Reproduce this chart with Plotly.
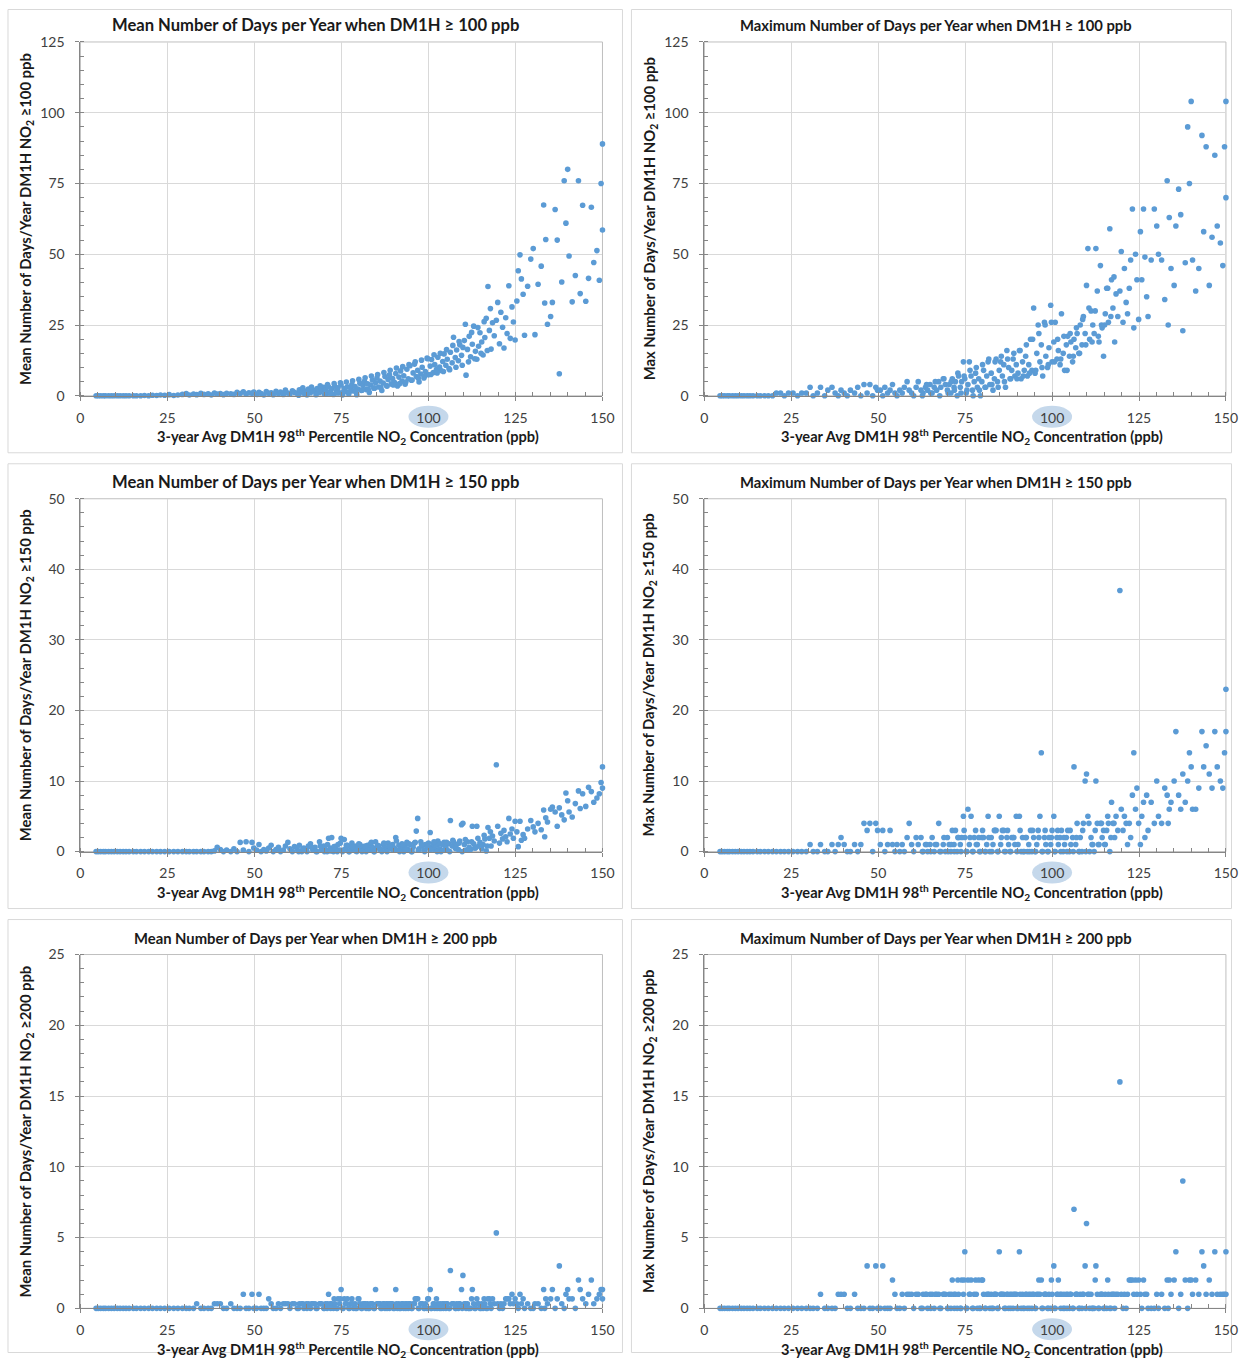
import plotly.graph_objects as go

W, H = 1244, 1361

# 3-year average DM1H 98th percentile NO2 concentration at each site (ppb)
conc_ppb = [
    4.5, 5.1, 5.8, 6.6, 7.2, 8.1, 8.9, 9.7, 10.6, 11.4,
    12.3, 13.1, 14.0, 15.2, 16.1, 17.3, 18.4, 19.6, 20.7, 21.9,
    23.0, 24.2, 25.5, 26.8, 28.0, 29.3,
    30.4, 31.3, 32.5, 33.4, 34.6, 35.5, 36.7, 37.6, 38.5, 39.3,
    40.2, 41.1, 42.0, 43.2, 44.1, 45.0, 45.9, 46.8, 47.6, 48.4,
    49.3, 49.8,
    50.6, 51.3, 51.9, 52.7, 53.4, 54.1, 54.8, 55.4, 56.2, 56.9,
    57.5, 58.3, 58.9, 59.6, 60.2, 60.9, 61.5, 62.3, 62.9, 63.6,
    64.2, 64.9, 65.5, 66.1, 66.8, 67.4, 68.0, 68.7, 69.3, 69.9,
    70.4, 70.9, 71.3, 71.8, 72.2, 72.7, 73.1, 73.6, 74.0, 74.5,
    74.9, 75.3, 75.8, 76.2, 76.7, 77.1, 77.6, 78.0, 78.5, 78.9,
    79.4, 79.8, 80.3, 80.7, 81.2, 81.6, 82.1, 82.5, 83.0, 83.4,
    83.9, 84.3, 84.8, 85.2, 85.7, 86.1, 86.6, 87.0, 87.5, 87.9,
    88.4, 88.8, 89.3, 89.7,
    90.2, 90.6, 91.1, 91.5, 92.0, 92.4, 92.9, 93.3, 93.8, 94.2,
    94.7, 95.1, 95.6, 96.0, 96.5, 96.9, 97.3, 97.8, 98.2, 98.7,
    99.1, 99.6, 100.0, 100.5, 100.9, 101.4, 101.8, 102.3, 102.7, 103.2,
    103.6, 104.1, 104.5, 105.0, 105.4, 105.9, 106.3, 106.8, 107.2, 107.7,
    108.1, 108.6, 109.0, 109.5, 109.9,
    110.3, 110.8, 111.2, 111.7, 112.1, 112.6, 113.0, 113.5, 113.9, 114.4,
    114.8, 115.3, 115.7, 116.2, 116.6, 117.1, 117.5, 118.0, 118.4, 118.9,
    119.5, 119.9, 120.4, 120.8, 121.3, 121.7, 122.2, 122.6, 123.1, 123.5,
    124.0, 124.4, 124.9,
    125.4, 125.8, 126.3, 126.7, 127.2, 127.6, 128.5, 129.4, 130.1, 130.6,
    131.5, 132.4, 133.1, 133.4, 133.7, 134.2, 135.1, 135.6, 136.4, 137.0,
    137.6, 138.3, 139.0, 139.5, 140.0, 140.4, 141.3, 142.2, 143.1, 143.6,
    144.3, 145.2, 146.0, 146.8, 147.5, 148.4, 149.1, 149.6, 150.0, 150.0,
    # additional urban sites
    62.7, 63.9, 65.1, 66.4, 67.7, 68.9, 70.1, 71.0, 71.9, 72.9,
    73.8, 74.7, 75.5, 76.4, 77.3, 78.2, 79.1, 80.0, 80.9, 81.8,
    82.7, 83.6, 84.5, 85.4, 86.3, 87.2, 88.1, 89.0, 89.9, 90.8,
    91.7, 92.6, 93.5, 94.4, 95.3, 96.2, 97.1, 98.0, 98.9, 99.8,
    100.7, 101.6, 102.5, 103.4, 104.3, 105.2, 106.1, 107.0, 107.9, 108.8,
    109.7, 110.6, 111.5, 112.4, 113.3, 114.2, 115.1, 116.0, 116.9, 117.8,
]

# Mean number of days per year with DM1H >= 100 ppb
mean_days_100 = [
    0, 0, 0, 0, 0, 0, 0, 0, 0, 0,
    0, 0, 0, 0, 0, 0, 0.1, 0, 0.2, 0.1,
    0.3, 0.2, 0.4, 0.1, 0.3, 0.5,
    0.8, 0.3, 0.6, 0.4, 0.9, 0.5, 0.7, 0.3, 1.0, 0.6,
    0.8, 0.4, 0.9, 0.7, 0.5, 1.2, 0.8, 1.4, 0.6, 1.1,
    0.9, 1.3,
    0.5, 1.2, 0.8, 0.3, 1.5, 0.9, 1.1, 0.4, 1.6, 0.7,
    1.3, 0.5, 2.0, 1.0, 0.6, 1.8, 1.2, 0.8, 2.1, 1.4,
    0.9, 1.7, 2.4, 1.1, 2.0, 1.5, 2.6, 1.2, 2.2, 3.0,
    2.0, 0.8, 3.1, 1.4, 2.5, 0.5, 3.4, 1.8, 2.8, 1.1,
    3.8, 0.3, 2.6, 1.5, 3.2, 0.6, 2.9, 4.0, 1.7, 3.3,
    0.4, 2.4, 4.4, 1.9, 3.6, 5.1, 2.2, 4.2, 1.2, 3.8,
    5.6, 2.7, 4.6, 6.3, 3.1, 5.2, 1.9, 4.5, 6.8, 3.6,
    5.8, 7.4, 4.2, 6.1,
    4.8, 7.9, 3.5, 6.6, 8.8, 5.2, 7.1, 4.1, 9.4, 6.0,
    10.6, 5.5, 8.1, 11.2, 6.8, 9.0, 4.9, 7.7, 10.1, 6.3,
    8.6, 13.3, 7.4, 10.5, 12.8, 8.2, 11.0, 9.3, 13.6, 10.2,
    8.9, 12.1, 14.8, 10.8, 12.9, 9.6, 15.4, 11.7, 20.7, 13.5,
    16.2, 12.4, 18.0, 14.3, 17.1,
    19.5, 7.3, 16.4, 21.0, 13.8, 18.2, 24.6, 15.7, 12.9, 17.5,
    22.3, 19.0, 14.4, 20.6, 27.4, 38.6, 23.1, 16.5, 25.8, 21.2,
    26.7, 33.0, 18.4, 29.5, 24.2, 16.9, 27.6, 22.0, 38.9, 20.3,
    31.4, 26.1, 19.7,
    33.5, 44.2, 49.8, 41.3, 35.9, 21.4, 38.7, 48.3, 52.0, 21.6,
    39.4, 45.8, 67.4, 32.8, 55.2, 25.3, 28.0, 33.0, 65.8, 55.0,
    7.8, 40.2, 76.0, 61.0, 80.0, 49.4, 33.2, 42.5, 76.0, 36.1,
    67.3, 33.4, 41.5, 66.6, 47.1, 51.3, 40.8, 75.0, 89.0, 58.6,
    0.2, 2.8, 0.3, 3.1, 0.4, 3.5, 0.6, 4.0, 0.9, 4.3,
    1.0, 4.6, 1.2, 4.9, 1.4, 5.3, 1.6, 5.8, 2.0, 6.4,
    2.3, 7.0, 2.7, 7.5, 3.0, 8.2, 3.4, 9.0, 3.8, 9.8,
    4.3, 10.3, 4.9, 11.0, 5.6, 12.0, 6.2, 12.6, 6.9, 13.1,
    7.5, 14.5, 8.1, 15.0, 8.6, 16.3, 9.2, 17.8, 10.1, 19.2,
    10.8, 25.3, 12.0, 22.4, 13.1, 24.1, 15.0, 26.2, 16.0, 30.8,
]

# Maximum number of days per year with DM1H >= 100 ppb
max_days_100 = [
    0, 0, 0, 0, 0, 0, 0, 0, 0, 0,
    0, 0, 0, 0, 0, 0, 0, 0, 1, 1,
    0, 1, 1, 0, 1, 1,
    3, 0, 1, 3, 0, 2, 3, 1, 0, 2,
    1, 0, 2, 1, 3, 0, 4, 1, 4, 0,
    3, 2,
    2, 0, 3, 1, 2, 4, 1, 0, 2, 1,
    3, 5, 2, 1, 0, 3, 5, 2, 1, 3,
    2, 4, 1, 3, 2, 5, 3, 6, 4, 2,
    4, 1, 6, 3, 5, 0, 7, 3, 5, 12,
    6, 1, 4, 12, 7, 2, 5, 8, 3, 6,
    0, 5, 9, 3, 7, 12, 4, 8, 2, 6,
    13, 5, 9, 12, 7, 11, 3, 16, 10, 6,
    9, 13, 7, 11,
    8, 16, 6, 12, 9, 14, 7, 11, 20, 9,
    31, 8, 15, 25, 12, 18, 7, 26, 14, 10,
    17, 32, 12, 19, 26, 13, 16, 11, 29, 15,
    9, 18, 21, 14, 19, 12, 20, 17, 22, 15,
    25, 18, 28, 22, 39,
    52, 20, 30, 25, 22, 52, 37, 19, 46, 24,
    14, 29, 38, 26, 59, 41, 31, 19, 36, 28,
    37, 51, 26, 45, 33, 29, 38, 48, 66, 24,
    50, 41, 27,
    58, 41, 66, 49, 35, 28, 48, 66, 60, 50,
    48, 34, 76, 25, 63, 45, 39, 60, 73, 64,
    23, 47, 95, 75, 104, 48, 37, 45, 92, 58,
    88, 39, 56, 85, 60, 54, 46, 88, 104, 70,
    0, 4, 1, 5, 0, 6, 1, 5, 2, 8,
    1, 7, 2, 9, 0, 10, 2, 11, 3, 13,
    4, 12, 3, 14, 5, 13, 6, 15, 6, 16,
    7, 18, 8, 20, 9, 22, 10, 25, 11, 26,
    12, 20, 13, 21, 9, 22, 14, 24, 15, 27,
    18, 31, 19, 30, 21, 25, 25, 38, 28, 42,
]

# Mean number of days per year with DM1H >= 150 ppb
mean_days_150 = [
    0, 0, 0, 0, 0, 0, 0, 0, 0, 0,
    0, 0, 0, 0, 0, 0, 0, 0, 0, 0,
    0, 0, 0, 0, 0, 0,
    0, 0, 0, 0, 0, 0, 0, 0, 0.1, 0.6,
    0.3, 0, 0.2, 0, 0.4, 0, 1.3, 0.2, 1.4, 0,
    1.3, 0.5,
    0.2, 1.0, 0, 0.3, 0.1, 0.5, 0.9, 0, 0.3, 0.6,
    0, 0.2, 0.8, 1.3, 0.4, 0, 0.7, 0.3, 0.9, 0,
    0.5, 0.3, 0.8, 1.1, 0.2, 0.6, 0, 1.4, 0.3, 0.8,
    0.3, 0, 1.9, 0.5, 2.0, 0, 0.7, 0.3, 1.0, 0.2,
    1.9, 0, 1.7, 0.4, 0.9, 0, 0.6, 1.2, 0.3, 0.8,
    0, 0.5, 1.0, 0.2, 0.7, 0.4, 0, 0.9, 0.3, 1.1,
    0.6, 0, 1.4, 0.5, 0.8, 0.3, 0, 1.0, 0.6, 0.2,
    1.2, 0.7, 0.4, 1.0,
    0.5, 2.0, 0.2, 0.9, 0.4, 1.1, 0, 0.7, 1.3, 0.3,
    1.0, 0, 0.6, 1.2, 2.9, 4.7, 0.4, 1.4, 0.8, 0.2,
    1.0, 0.5, 1.2, 2.7, 0.6, 1.1, 0.3, 0.9, 1.5, 0.4,
    0, 1.0, 1.3, 0.7, 0.2, 1.1, 4.4, 0.8, 1.4, 0.5,
    1.0, 0.3, 1.5, 3.8, 4.0,
    1.0, 0.2, 1.4, 0.6, 0.3, 3.6, 1.1, 0.5, 3.6, 0.8,
    1.3, 0.4, 1.0, 1.8, 0.1, 3.4, 1.9, 0.8, 2.2, 1.5,
    12.3, 3.6, 1.2, 2.6, 1.8, 3.0, 2.1, 1.4, 4.7, 2.5,
    3.2, 1.9, 4.3,
    2.8, 0.7, 4.3, 1.6, 2.4, 1.9, 3.2, 4.4, 3.5, 2.8,
    4.0, 3.1, 5.9, 2.1, 4.8, 4.2, 6.0, 6.3, 5.6, 3.6,
    6.2, 5.2, 4.5, 8.3, 7.2, 5.6, 4.9, 6.8, 8.6, 6.1,
    8.2, 6.4, 9.1, 8.5, 7.0, 7.6, 8.2, 9.8, 12.0, 9.0,
    0, 0.4, 0, 0.6, 0, 0.8, 0, 1.0, 0.1, 0.7,
    0, 1.2, 0.2, 0.9, 0, 0.6, 0.1, 1.1, 0, 0.8,
    0.2, 1.3, 0, 0.9, 0.3, 1.2, 0, 0.7, 0.2, 1.5,
    0, 0.9, 0.3, 1.1, 0, 1.3, 0.2, 1.0, 0, 0.8,
    0.3, 1.4, 0, 1.1, 0.2, 1.3, 0, 1.6, 0.4, 1.2,
    0, 1.7, 0.3, 1.4, 0.5, 1.9, 0.6, 2.3, 0.8, 2.8,
]

# Maximum number of days per year with DM1H >= 150 ppb
max_days_150 = [
    0, 0, 0, 0, 0, 0, 0, 0, 0, 0,
    0, 0, 0, 0, 0, 0, 0, 0, 0, 0,
    0, 0, 0, 0, 0, 0,
    1, 0, 0, 1, 0, 0, 1, 0, 1, 2,
    1, 0, 0, 1, 0, 1, 4, 3, 4, 0,
    4, 3,
    1, 3, 0, 1, 3, 1, 0, 1, 0, 1,
    0, 2, 4, 1, 0, 2, 1, 2, 0, 1,
    0, 1, 2, 0, 1, 4, 0, 1, 0, 2,
    1, 0, 3, 1, 3, 0, 2, 1, 2, 5,
    2, 0, 6, 1, 5, 0, 2, 3, 1, 2,
    0, 2, 2, 0, 1, 5, 0, 2, 1, 3,
    3, 0, 5, 1, 3, 3, 0, 2, 1, 0,
    2, 2, 1, 5,
    1, 5, 0, 2, 0, 2, 0, 1, 3, 0,
    2, 0, 1, 3, 5, 14, 0, 2, 1, 0,
    2, 1, 3, 5, 0, 2, 1, 2, 3, 0,
    1, 2, 3, 0, 1, 2, 12, 1, 4, 0,
    2, 0, 4, 10, 11,
    5, 0, 2, 1, 0, 10, 4, 1, 4, 2,
    3, 1, 3, 4, 0, 7, 4, 2, 5, 3,
    37, 6, 3, 5, 4, 1, 4, 2, 8, 14,
    6, 9, 4,
    1, 5, 7, 2, 8, 3, 7, 4, 10, 5,
    4, 9, 8, 4, 6, 7, 10, 17, 8, 6,
    11, 7, 10, 14, 12, 6, 6, 9, 17, 12,
    15, 11, 9, 17, 12, 10, 9, 14, 23, 17,
    0, 1, 0, 1, 0, 2, 0, 1, 0, 2,
    0, 3, 0, 2, 0, 1, 0, 3, 0, 2,
    0, 3, 0, 2, 0, 3, 0, 2, 0, 3,
    0, 2, 0, 3, 0, 2, 0, 3, 0, 2,
    0, 3, 0, 2, 0, 3, 0, 2, 0, 3,
    0, 4, 1, 3, 1, 4, 1, 5, 2, 4,
]

# Mean number of days per year with DM1H >= 200 ppb
mean_days_200 = [
    0, 0, 0, 0, 0, 0, 0, 0, 0, 0,
    0, 0, 0, 0, 0, 0, 0, 0, 0, 0,
    0, 0, 0, 0, 0, 0,
    0, 0, 0, 0.33, 0, 0, 0, 0, 0.33, 0.33,
    0.33, 0, 0, 0.33, 0, 0, 0, 1, 0, 0,
    1, 0,
    0, 1, 0, 0, 0, 0.67, 0.33, 0, 0, 0.33,
    0, 0.33, 0.33, 0.33, 0, 0.33, 0.33, 0, 0.33, 0.33,
    0, 0.33, 0.33, 0, 0.33, 0.33, 0, 0.33, 0.33, 0,
    0.33, 0, 1, 0.33, 0.33, 0, 0.33, 0, 0.67, 0.33,
    1.33, 0, 0.67, 0.33, 0.67, 0, 0.33, 0.67, 0, 0.33,
    0, 0.67, 0.33, 0, 0.33, 0.33, 0, 0.33, 0, 0.33,
    0.33, 0, 1.33, 0.33, 0.33, 0.33, 0, 0.33, 0, 0.33,
    0.33, 0, 0.33, 0.33,
    0, 1.33, 0, 0.33, 0, 0.33, 0, 0.33, 0.33, 0,
    0.33, 0, 0.33, 0.33, 0.67, 0.67, 0, 0.33, 0.33, 0,
    0.33, 0, 0.67, 1.33, 0, 0.33, 0, 0.67, 0.33, 0,
    0, 0.33, 0.33, 0, 0.33, 0, 2.67, 0.33, 0.33, 0,
    0.33, 0, 0.33, 1.33, 2.33,
    0.33, 0, 0.33, 0, 0, 1.33, 0.33, 0, 0.67, 0.33,
    0, 0.33, 0, 0.33, 0, 0.67, 0.67, 0, 0.67, 0.33,
    5.33, 0.33, 0, 0.33, 0, 0.33, 0.67, 0.67, 0.67, 0.33,
    1, 0.33, 0.67,
    0.33, 0, 1, 0.33, 0.67, 0, 0.33, 0, 0, 0.33,
    0.33, 0, 1.33, 0, 0.67, 0.33, 0.67, 1.33, 0, 0.67,
    3, 0.33, 0, 1, 1.33, 0.67, 0.67, 0, 2, 1.33,
    0.67, 0.33, 1, 2, 0.33, 0.67, 1, 1.33, 1.33, 0.67,
    0, 0.33, 0, 0.33, 0, 0.33, 0, 0.33, 0, 0.67,
    0, 0.67, 0, 0.33, 0, 0.33, 0, 0.67, 0, 0.33,
    0, 0.33, 0, 0.33, 0, 0.33, 0, 0.33, 0, 0.33,
    0, 0.33, 0, 0.33, 0, 0.67, 0, 0.33, 0, 0.67,
    0, 0.33, 0, 0.33, 0, 0.33, 0, 0.33, 0, 0.33,
    0, 0.33, 0, 0.67, 0, 0.33, 0, 0.67, 0, 0.33,
]

# Maximum number of days per year with DM1H >= 200 ppb
max_days_200 = [
    0, 0, 0, 0, 0, 0, 0, 0, 0, 0,
    0, 0, 0, 0, 0, 0, 0, 0, 0, 0,
    0, 0, 0, 0, 0, 0,
    0, 0, 0, 1, 0, 0, 0, 0, 1, 1,
    1, 0, 0, 1, 0, 0, 0, 3, 0, 0,
    3, 0,
    0, 3, 0, 0, 0, 2, 1, 0, 0, 1,
    0, 1, 1, 1, 0, 1, 1, 0, 1, 1,
    0, 1, 1, 0, 1, 1, 0, 1, 1, 0,
    1, 0, 2, 1, 1, 0, 1, 0, 2, 1,
    4, 0, 2, 1, 2, 0, 1, 2, 0, 2,
    0, 2, 1, 0, 1, 1, 0, 1, 0, 1,
    1, 0, 4, 1, 1, 1, 0, 1, 0, 1,
    1, 0, 1, 1,
    0, 4, 0, 1, 0, 1, 0, 1, 1, 0,
    1, 0, 1, 1, 1, 2, 0, 1, 1, 0,
    1, 0, 1, 3, 0, 1, 2, 1, 1, 0,
    0, 1, 1, 0, 1, 0, 7, 1, 1, 0,
    1, 0, 1, 3, 6,
    1, 0, 1, 0, 0, 3, 1, 0, 1, 1,
    0, 1, 0, 1, 0, 1, 1, 0, 1, 1,
    16, 1, 0, 1, 0, 1, 2, 2, 2, 1,
    2, 1, 2,
    1, 0, 2, 1, 1, 0, 0, 0, 1, 0,
    1, 0, 2, 0, 2, 1, 2, 4, 0, 1,
    9, 2, 0, 2, 2, 1, 2, 1, 4, 3,
    1, 2, 1, 4, 1, 1, 1, 1, 4, 1,
    0, 1, 0, 1, 0, 1, 0, 1, 0, 2,
    0, 2, 0, 1, 0, 1, 0, 2, 0, 1,
    0, 1, 0, 1, 0, 1, 0, 1, 0, 1,
    0, 1, 0, 1, 0, 2, 0, 1, 0, 2,
    0, 1, 0, 1, 0, 1, 0, 1, 0, 1,
    0, 1, 0, 2, 0, 1, 0, 2, 0, 1,
]

x_tick_vals = [0, 25, 50, 75, 100, 125, 150]
highlight_tick = 100

x_title = "<b>3-year Avg DM1H 98<sup>th</sup> Percentile NO<sub>2</sub> Concentration (ppb)</b>"

panels = [
    dict(y=mean_days_100, title="Mean Number of Days per Year when DM1H ≥ 100 ppb",
         ytitle="Mean Number of Days/Year DM1H NO<sub>2</sub> ≥100 ppb", ymax=125, dtick=25, minor=5, tsize=16.6),
    dict(y=max_days_100, title="Maximum Number of Days per Year when DM1H ≥ 100 ppb",
         ytitle="Max Number of Days/Year DM1H NO<sub>2</sub> ≥100 ppb", ymax=125, dtick=25, minor=5, tsize=14.8),
    dict(y=mean_days_150, title="Mean Number of Days per Year when DM1H ≥ 150 ppb",
         ytitle="Mean Number of Days/Year DM1H NO<sub>2</sub> ≥150 ppb", ymax=50, dtick=10, minor=2, tsize=16.6),
    dict(y=max_days_150, title="Maximum Number of Days per Year when DM1H ≥ 150 ppb",
         ytitle="Max Number of Days/Year DM1H NO<sub>2</sub> ≥150 ppb", ymax=50, dtick=10, minor=2, tsize=14.8),
    dict(y=mean_days_200, title="Mean Number of Days per Year when DM1H ≥ 200 ppb",
         ytitle="Mean Number of Days/Year DM1H NO<sub>2</sub> ≥200 ppb", ymax=25, dtick=5, minor=1, tsize=14.8),
    dict(y=max_days_200, title="Maximum Number of Days per Year when DM1H ≥ 200 ppb",
         ytitle="Max Number of Days/Year DM1H NO<sub>2</sub> ≥200 ppb", ymax=25, dtick=5, minor=1, tsize=14.8),
]

# grid geometry in page pixels
plot_cols = [(79.5, 602), (704, 1226)]
plot_rows = [(41, 395), (498, 851), (954, 1308)]
frame_cols = [(7, 622), (631, 1241)]
frame_rows = [(6, 452), (463, 908), (919, 1360)]
title_y = [24, 481, 937]
ytitle_x = [25, 649]

# the figure sits in the page at a small inset and scale
PAGE_SCALE = 0.988
PAGE_OFF_X, PAGE_OFF_Y = 3.0, 8.0

FONT = "Lato, Arial, sans-serif"
AXIS_COLOR = "#868686"
GRID_COLOR = "#d9d9d9"
MARKER_COLOR = "#5b9bd5"


def px(xp):
    """page x pixel -> paper x"""
    f = (xp - PAGE_OFF_X) / PAGE_SCALE
    return min(max(f, 0.5), W - 0.5) / W


def py(yp):
    """page y pixel -> paper y"""
    f = (yp - PAGE_OFF_Y) / PAGE_SCALE
    return 1 - min(max(f, 0.5), H - 0.5) / H


fig = go.Figure()
shapes, annotations = [], []
layout_axes = {}

for i, p in enumerate(panels):
    r, c = divmod(i, 2)
    n = i + 1
    xs = "" if n == 1 else str(n)
    x0, x1 = plot_cols[c]
    y0, y1 = plot_rows[r]
    fx0, fx1 = frame_cols[c]
    fy0, fy1 = frame_rows[r]

    fig.add_trace(go.Scatter(
        x=conc_ppb, y=p["y"], mode="markers",
        marker=dict(size=5.6, color=MARKER_COLOR, line=dict(width=0)),
        cliponaxis=False, showlegend=False,
        xaxis="x" + xs, yaxis="y" + xs,
    ))

    common = dict(
        showgrid=True, gridcolor=GRID_COLOR, gridwidth=1,
        showline=True, linecolor=AXIS_COLOR, linewidth=1,
        ticks="outside", ticklen=4, tickcolor=AXIS_COLOR,
        zeroline=False, fixedrange=True,
        tickfont=dict(family=FONT, size=14, color="#404040"),
    )
    layout_axes["xaxis" + xs] = dict(
        common, domain=[px(x0), px(x1)], anchor="y" + xs,
        range=[0, 150], tickvals=x_tick_vals, ticklabelstandoff=5,
        minor=dict(dtick=5, ticks="inside", ticklen=4, tickcolor=AXIS_COLOR, showgrid=False),
    )
    layout_axes["yaxis" + xs] = dict(
        common, domain=[py(y1), py(y0)], anchor="x" + xs,
        range=[0, p["ymax"]], dtick=p["dtick"], tick0=0, ticklabelstandoff=8,
        minor=dict(dtick=p["minor"], ticks="inside", ticklen=4, tickcolor=AXIS_COLOR, showgrid=False),
    )

    # outer frame of the panel
    shapes.append(dict(type="rect", xref="paper", yref="paper",
                       x0=px(fx0), x1=px(fx1), y0=py(fy1), y1=py(fy0),
                       line=dict(color="#d9d9d9", width=1), layer="below"))
    # plot-area border
    shapes.append(dict(type="rect", xref="paper", yref="paper",
                       x0=px(x0), x1=px(x1), y0=py(y1), y1=py(y0),
                       line=dict(color="#bfbfbf", width=1), layer="below"))
    # highlight behind the 100 ppb tick label
    half = 20 * 150 / (x1 - x0)
    shapes.append(dict(type="circle", xref="x" + xs, yref="paper",
                       x0=highlight_tick - half, x1=highlight_tick + half,
                       y0=py(y1 + 32), y1=py(y1 + 10),
                       fillcolor="#c5d8eb", line=dict(width=0), layer="below"))

    annotations.append(dict(text="<b>" + p["title"] + "</b>", xref="paper", yref="paper",
                            x=px((fx0 + fx1) / 2), y=py(title_y[r]), showarrow=False,
                            xanchor="center", yanchor="middle",
                            font=dict(family=FONT, size=p["tsize"], color="#1a1a1a")))
    annotations.append(dict(text="<b>" + p["ytitle"] + "</b>", xref="paper", yref="paper",
                            x=px(ytitle_x[c]), y=py((y0 + y1) / 2), showarrow=False,
                            textangle=-90, xanchor="center", yanchor="middle",
                            font=dict(family=FONT, size=14.8, color="#1a1a1a")))
    annotations.append(dict(text=x_title, xref="paper", yref="paper",
                            x=px((x0 + x1) / 2 + 7), y=py(y1 + 41), showarrow=False,
                            xanchor="center", yanchor="middle",
                            font=dict(family=FONT, size=14.6, color="#1a1a1a")))

fig.update_layout(
    width=W, height=H, margin=dict(l=0, r=0, t=0, b=0),
    paper_bgcolor="white", plot_bgcolor="white",
    font=dict(family=FONT, color="#404040"),
    shapes=shapes, annotations=annotations, showlegend=False,
    **layout_axes,
)

fig.write_html("out.html", config={"displayModeBar": False})
